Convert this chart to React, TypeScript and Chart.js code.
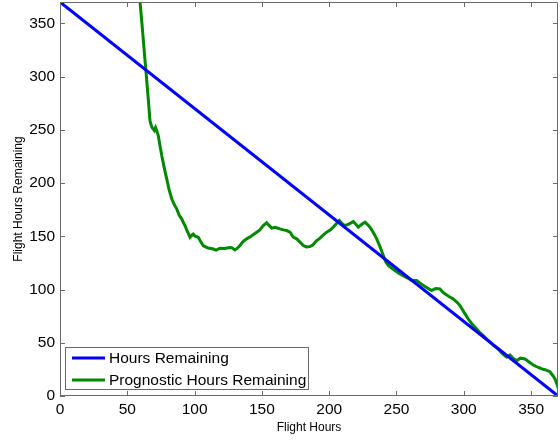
import React, { useEffect, useRef } from 'react';
import { Chart, registerables } from 'chart.js';

Chart.register(...registerables);

// ---- data ----
const seriesLabels = ['Hours Remaining', 'Prognostic Hours Remaining'];
const seriesColors = ['#0000ff', '#008800'];

const hoursRemainingX = [0, 370];
const hoursRemainingY = [370, 0];

const prognosticX = [
  58.8, 59.4, 61, 62.5, 64, 65.5, 66.9, 68.1, 69, 70.1, 71, 71.8, 73, 74.3, 75.6, 77.5, 79.3,
  81, 83, 84.8, 86.7, 88.5, 90.4, 92, 92.9, 94.5, 96.6, 98, 99, 100.5, 102.7, 104.5, 106.5, 110, 113.9,
  116, 118.9, 122, 126.3, 128, 130, 132, 133.7, 136, 138.7, 142, 146.1, 148.5, 151, 153.5, 155.5, 157.3,
  160, 163.4, 166, 168.4, 170.9, 173.3, 175.9, 178.3, 180.8, 183, 185.7, 188, 190.7, 193, 195.5, 198.1,
  201, 203, 205.5, 207.5, 209.5, 211.7, 214.5, 217.9, 220, 221.6, 224, 226.6, 228.5, 230.3, 233, 235.3,
  237.8, 240.2, 242, 243.9, 246.5, 248.9, 252, 255, 258, 261.3, 265, 267.5, 270, 273, 276.1, 279, 282.3,
  284, 286, 289, 292.2, 295, 297.2, 300, 303.3, 306.5, 309.6, 312, 314.5, 317, 319.5, 322.5, 325.6, 328.5,
  331.9, 334.3, 337, 339.3, 342, 345.5, 348.5, 351.6, 355, 358, 360.3, 364, 366, 367.8, 369.5, 371,
];
const prognosticY = [
  380, 371, 348, 325, 303, 280, 258, 253, 251, 249.3, 252, 249.3, 244.6, 235, 225.8, 214, 203.9,
  194, 185.2, 180, 175.8, 170, 166.4, 162, 160, 155, 149, 151, 152, 150, 149, 145, 141, 139, 138,
  137, 138.8, 138.5, 139.4, 139, 137.2, 139, 141.3, 145, 147.6, 150, 153.8, 156, 160, 162.6, 160, 157.6,
  158.5, 157, 156, 155.4, 153.9, 149.2, 147.6, 144.5, 141.3, 140, 140.3, 142, 146, 148, 151, 153.9,
  156, 158.6, 162, 164.8, 162, 160, 161.5, 163.8, 161, 158.6, 161, 163.2, 161, 158.6, 153, 147.6,
  140, 131.9, 126, 122.5, 120, 117.8, 115, 113, 111, 108.4, 108.4, 106, 103.7, 101.5, 99, 101, 100.6,
  98, 95.9, 93.5, 91.2, 88, 84.9, 79, 72.4, 67, 63, 59.5, 56.7, 53.5, 50.5, 47, 44.2, 40,
  36.4, 38.5, 35, 33.2, 35.5, 34.8, 32, 29.1, 27, 25.5, 24.7, 22.8, 19.5, 16, 10, 4,
];

const xTickValues = [0, 50, 100, 150, 200, 250, 300, 350];
const yTickValues = [0, 50, 100, 150, 200, 250, 300, 350];
const axisMin = 0;
const axisMax = 370;
const xAxisTitle = 'Flight Hours';
const yAxisTitle = 'Flight Hours Remaining';

const FONT = '"Liberation Sans", Arial, Helvetica, sans-serif';
const AXIS_COLOR = '#6a6a6a';

const boxPlugin = {
  id: 'matlabBox',
  afterDatasetsDraw(chart: any) {
    const { ctx, chartArea } = chart;
    const { left, right, top, bottom } = chartArea;
    const xs = chart.scales.x;
    const ys = chart.scales.y;
    const tl = 5;
    ctx.save();
    ctx.strokeStyle = AXIS_COLOR;
    ctx.lineWidth = 1;
    ctx.beginPath();
    ctx.rect(Math.round(left) + 0.5, Math.round(top) + 0.5, Math.round(right - left) - 1, Math.round(bottom - top) - 1);
    ctx.stroke();
    ctx.beginPath();
    for (const v of xTickValues) {
      const px = Math.round(xs.getPixelForValue(v)) + 0.5;
      ctx.moveTo(px, bottom);
      ctx.lineTo(px, bottom - tl);
      ctx.moveTo(px, top);
      ctx.lineTo(px, top + tl);
    }
    for (const v of yTickValues) {
      const py = Math.round(ys.getPixelForValue(v)) + 0.5;
      ctx.moveTo(left, py);
      ctx.lineTo(left + tl, py);
      ctx.moveTo(right, py);
      ctx.lineTo(right - tl, py);
    }
    ctx.stroke();

    // legend (inside the axes, lower left)
    const lx = Math.round(left) + 5;
    const lw = 243;
    const lh = 42;
    const ly = Math.round(bottom) - 7 - lh;
    ctx.fillStyle = '#ffffff';
    ctx.fillRect(lx, ly, lw, lh);
    ctx.strokeStyle = AXIS_COLOR;
    ctx.strokeRect(lx + 0.5, ly + 0.5, lw, lh);
    ctx.font = `15.5px ${FONT}`;
    ctx.textBaseline = 'middle';
    ctx.textAlign = 'left';
    chart.data.datasets.forEach((ds: any, i: number) => {
      const cy = ly + 11 + i * 22;
      ctx.strokeStyle = ds.borderColor;
      ctx.lineWidth = 3;
      ctx.beginPath();
      ctx.moveTo(lx + 7, cy);
      ctx.lineTo(lx + 40, cy);
      ctx.stroke();
      ctx.fillStyle = '#000';
      ctx.fillText(ds.label, lx + 44, cy + 1);
    });
    ctx.restore();
  },
};

export default function App() {
  const canvasRef = useRef<HTMLCanvasElement | null>(null);

  useEffect(() => {
    const canvas = canvasRef.current;
    if (!canvas) return;
    const chart = new Chart(canvas, {
      type: 'line',
      data: {
        datasets: [
          {
            label: seriesLabels[0],
            data: hoursRemainingX.map((x, i) => ({ x, y: hoursRemainingY[i] })),
            borderColor: seriesColors[0],
            borderWidth: 3,
            pointRadius: 0,
            fill: false,
            tension: 0,
          },
          {
            label: seriesLabels[1],
            data: prognosticX.map((x, i) => ({ x, y: prognosticY[i] })),
            borderColor: seriesColors[1],
            borderWidth: 3,
            pointRadius: 0,
            fill: false,
            tension: 0,
          },
        ],
      },
      options: {
        animation: false,
        responsive: false,
        maintainAspectRatio: false,
        layout: { padding: { top: 2, right: 2, left: 0, bottom: 0 } },
        plugins: {
          legend: { display: false },
          tooltip: { enabled: false },
        },
        scales: {
          x: {
            type: 'linear',
            min: axisMin,
            max: axisMax,
            grid: { display: false, drawTicks: false },
            border: { display: false },
            afterBuildTicks: (scale: any) => {
              scale.ticks = xTickValues.map((v) => ({ value: v }));
            },
            afterFit: (scale: any) => {
              scale.height = 46;
              scale.paddingLeft = 0;
              scale.paddingRight = 0;
            },
            ticks: {
              autoSkip: false,
              maxRotation: 0,
              padding: 4,
              color: '#000',
              font: { family: FONT, size: 15.5 },
            },
            title: {
              display: true,
              text: xAxisTitle,
              color: '#000',
              font: { family: FONT, size: 12 },
              padding: { top: 0, bottom: 7 },
            },
          },
          y: {
            type: 'linear',
            min: axisMin,
            max: axisMax,
            grid: { display: false, drawTicks: false },
            border: { display: false },
            afterBuildTicks: (scale: any) => {
              scale.ticks = yTickValues.map((v) => ({ value: v }));
            },
            afterFit: (scale: any) => {
              scale.width = 60;
              scale.paddingTop = 0;
              scale.paddingBottom = 0;
            },
            ticks: {
              autoSkip: false,
              padding: 5,
              color: '#000',
              font: { family: FONT, size: 15.5 },
            },
            title: {
              display: true,
              text: yAxisTitle,
              color: '#000',
              font: { family: FONT, size: 12 },
              padding: { top: 11, bottom: 0 },
            },
          },
        },
      },
      plugins: [boxPlugin],
    } as any);
    return () => chart.destroy();
  }, []);

  return (
    <div style={{ position: 'fixed', left: 0, top: 0, width: 560, height: 442, background: '#fff' }}>
      <canvas ref={canvasRef} width={560} height={442} style={{ display: 'block', width: 560, height: 442 }} />
    </div>
  );
}
